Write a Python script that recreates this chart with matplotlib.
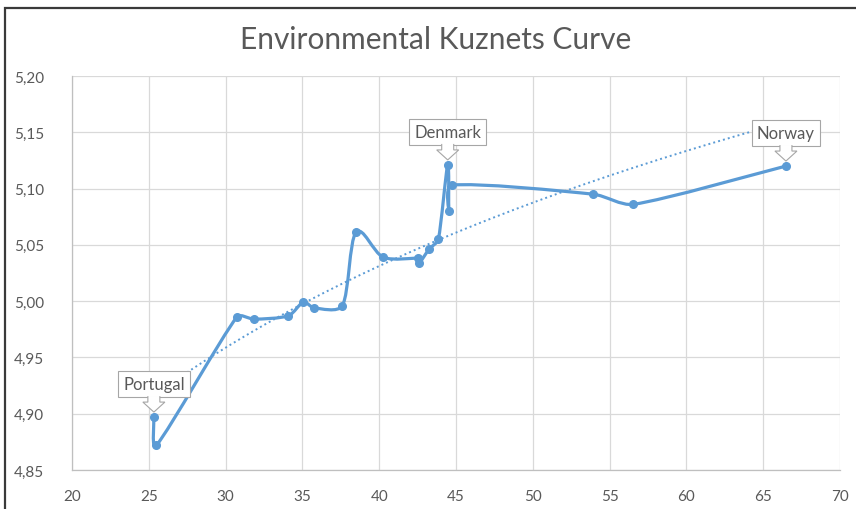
import matplotlib
matplotlib.use("Agg")
import matplotlib.pyplot as plt
import matplotlib.transforms as mtransforms
import numpy as np
from matplotlib.patches import Polygon, Rectangle, PathPatch
from matplotlib.path import Path

plt.rcParams["font.family"] = ["Lato", "DejaVu Sans"]

# data
gdp = [25.33, 25.50, 30.74, 31.85, 34.08, 35.06, 35.76, 37.60, 38.49, 40.27,
       42.55, 42.62, 43.24, 43.85, 44.46, 44.54, 44.72, 53.94, 56.55, 66.48]
co2 = [4.897, 4.872, 4.986, 4.984, 4.987, 4.999, 4.994, 4.996, 5.061, 5.039,
       5.038, 5.034, 5.046, 5.055, 5.121, 5.080, 5.103, 5.095, 5.086, 5.120]
labels = {0: "Portugal", 14: "Denmark", 19: "Norway"}

x_ticks = [20, 25, 30, 35, 40, 45, 50, 55, 60, 65, 70]
y_ticks = [4.85, 4.90, 4.95, 5.00, 5.05, 5.10, 5.15, 5.20]

BLUE = "#5b9bd5"
TXT = "#595959"
GRID = "#d9d9d9"


def smooth_path(pts, k=0.3):
    # catmull-rom style handles, clamped to a share of the segment length
    n = len(pts)
    tang = []
    for i in range(n):
        d = pts[min(i + 1, n - 1)] - pts[max(i - 1, 0)]
        tang.append(d)
    verts = [pts[0]]
    codes = [Path.MOVETO]
    for i in range(n - 1):
        L = np.hypot(*(pts[i + 1] - pts[i]))
        h = []
        for t in (tang[i], tang[i + 1]):
            ln = np.hypot(*t)
            h.append(t / ln * min(ln / 6, k * L))
        verts += [pts[i] + h[0], pts[i + 1] - h[1], pts[i + 1]]
        codes += [Path.CURVE4] * 3
    return Path(verts, codes)


fig = plt.figure(figsize=(8.56, 5.10), dpi=100)
ax = fig.add_axes([72 / 856, 1 - 471 / 510, 768 / 856, 394 / 510])

# smoothing done in pixel-like units, then mapped back
sx, sy = 15.36, 1125.7
pts = np.column_stack([np.array(gdp) * sx, np.array(co2) * sy])
p = smooth_path(pts)
p = Path(p.vertices / [sx, sy], p.codes)
ax.add_patch(PathPatch(p, fc="none", ec=BLUE, lw=2.3, zorder=3,
                       capstyle="round", joinstyle="round"))
ax.plot(gdp, co2, "o", color=BLUE, ms=5.5, zorder=4)

# logarithmic trendline
b, a = np.polyfit(np.log(gdp), co2, 1)
tx = np.linspace(min(gdp), max(gdp), 200)
ax.plot(tx, a + b * np.log(tx), color=BLUE, lw=1.4,
        linestyle=(0, (1, 1.6)), zorder=2)

for i, name in labels.items():
    x, y = gdp[i], co2[i]
    ax.annotate(name, xy=(x, y), xytext=(0, 33), textcoords="offset pixels",
                ha="center", va="center", fontsize=12, color=TXT, zorder=6,
                bbox=dict(boxstyle="square,pad=0.3", fc="white",
                          ec="#a6a6a6", lw=0.8))
    trans = fig.dpi_scale_trans + mtransforms.ScaledTranslation(
        x, y, ax.transData)
    arrow = np.array([[-6, 21], [-6, 15], [-11, 15], [0, 5], [11, 15],
                      [6, 15], [6, 21]]) / 100
    ax.add_patch(Polygon(arrow, closed=False, fc="white", ec="#a6a6a6",
                         lw=0.8, transform=trans, zorder=7, clip_on=False))

ax.set_xlim(20, 70)
ax.set_ylim(4.85, 5.20)
ax.set_xticks(x_ticks)
ax.set_yticks(y_ticks)
ax.set_yticklabels([f"{v:.2f}".replace(".", ",") for v in y_ticks])
ax.grid(True, color=GRID, lw=0.9, zorder=0)
ax.set_axisbelow(True)
for s in ["top", "right"]:
    ax.spines[s].set_visible(False)
for s in ["left", "bottom"]:
    ax.spines[s].set_color("#bfbfbf")
    ax.spines[s].set_linewidth(0.9)
ax.tick_params(length=0, labelsize=11, colors=TXT)
ax.tick_params(axis="x", pad=14)
ax.tick_params(axis="y", pad=20)

fig.text(436 / 856, 1 - 40 / 510, "Environmental Kuznets Curve",
         ha="center", va="center", fontsize=21.5, color=TXT)

fig.patches.append(Rectangle((5 / 856, -0.1), 1.2, 1 - 9 / 510 + 0.1,
                             transform=fig.transFigure, fill=False,
                             ec="#3a3a3a", lw=1.6))

fig.savefig("out.png", dpi=100)
